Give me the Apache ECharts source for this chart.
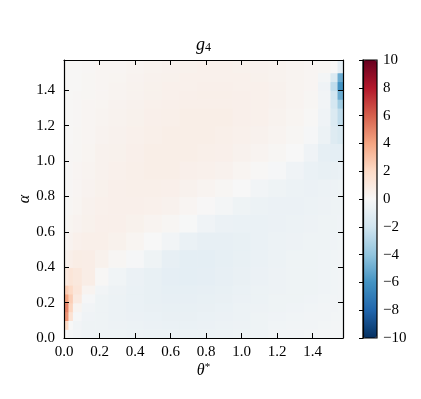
<!DOCTYPE html>
<html><head><meta charset="utf-8">
<script src="https://cdn.jsdelivr.net/npm/echarts@6/dist/echarts.min.js"></script>
<style>html,body{margin:0;padding:0;background:#fff}#c{width:421px;height:399px}</style>
</head><body><div id="c"></div>
<script>
// cell edges (radians) of the sampled field
const thetaEdges = [0, 0.025, 0.05, 0.1, 0.175, 0.25, 0.35, 0.45, 0.55, 0.65, 0.75, 0.85, 0.95, 1.05, 1.15, 1.25, 1.35, 1.43, 1.5, 1.54, 1.5708];
const alphaEdges = [0, 0.05, 0.1, 0.15, 0.2, 0.25, 0.3, 0.4, 0.5, 0.6, 0.7, 0.8, 0.9, 1.0, 1.1, 1.2, 1.3, 1.35, 1.4, 1.45, 1.5, 1.5708];
// g4 values, rows from alpha low to high, columns theta low to high
const g4 = [
 [0.0,-0.2,-0.3,-0.4,-0.45,-0.5,-0.55,-0.6,-0.6,-0.6,-0.6,-0.55,-0.5,-0.4,-0.3,-0.3,-0.25,-0.2,-0.2,-0.2],
 [2.0,0.0,-0.3,-0.45,-0.5,-0.55,-0.6,-0.65,-0.7,-0.7,-0.65,-0.6,-0.55,-0.45,-0.35,-0.3,-0.3,-0.25,-0.2,-0.2],
 [4.5,1.5,-0.1,-0.4,-0.5,-0.6,-0.65,-0.7,-0.75,-0.75,-0.7,-0.65,-0.6,-0.5,-0.4,-0.35,-0.3,-0.3,-0.25,-0.25],
 [5.0,2.2,0.3,-0.3,-0.5,-0.6,-0.7,-0.75,-0.8,-0.8,-0.75,-0.7,-0.6,-0.55,-0.45,-0.4,-0.35,-0.3,-0.3,-0.25],
 [4.0,2.5,0.9,-0.1,-0.45,-0.6,-0.7,-0.8,-0.85,-0.85,-0.8,-0.75,-0.65,-0.6,-0.5,-0.45,-0.4,-0.35,-0.3,-0.3],
 [2.5,2.0,1.2,0.3,-0.3,-0.55,-0.7,-0.8,-0.9,-0.9,-0.85,-0.8,-0.7,-0.6,-0.55,-0.5,-0.45,-0.4,-0.35,-0.3],
 [1.0,1.3,1.1,0.7,0.1,-0.35,-0.65,-0.8,-0.95,-1.0,-0.95,-0.85,-0.75,-0.65,-0.55,-0.5,-0.45,-0.4,-0.35,-0.3],
 [0.4,0.6,0.75,0.7,0.45,0.15,-0.1,-0.5,-0.85,-1.0,-1.0,-0.9,-0.8,-0.7,-0.6,-0.5,-0.45,-0.4,-0.35,-0.3],
 [0.2,0.35,0.5,0.6,0.6,0.45,0.25,0.0,-0.3,-0.7,-0.85,-0.85,-0.8,-0.7,-0.6,-0.55,-0.5,-0.45,-0.4,-0.35],
 [0.12,0.25,0.35,0.45,0.55,0.55,0.45,0.3,0.15,-0.05,-0.4,-0.65,-0.7,-0.7,-0.65,-0.6,-0.55,-0.5,-0.45,-0.4],
 [0.1,0.15,0.25,0.4,0.5,0.55,0.55,0.5,0.4,0.2,0.05,-0.2,-0.45,-0.6,-0.65,-0.65,-0.6,-0.55,-0.5,-0.45],
 [0.1,0.12,0.22,0.35,0.45,0.55,0.6,0.6,0.55,0.4,0.3,0.15,0.0,-0.3,-0.5,-0.6,-0.65,-0.6,-0.55,-0.5],
 [0.1,0.12,0.2,0.3,0.4,0.5,0.6,0.65,0.65,0.55,0.5,0.4,0.25,0.1,-0.1,-0.4,-0.7,-0.8,-0.75,-0.7],
 [0.1,0.12,0.15,0.25,0.4,0.45,0.55,0.65,0.65,0.65,0.6,0.55,0.4,0.3,0.15,0.0,-0.4,-0.9,-1.0,-1.0],
 [0.1,0.1,0.15,0.22,0.35,0.4,0.5,0.6,0.65,0.65,0.65,0.6,0.5,0.4,0.3,0.15,-0.1,-0.6,-1.3,-1.6],
 [0.1,0.1,0.12,0.2,0.3,0.38,0.45,0.55,0.6,0.65,0.65,0.65,0.55,0.5,0.38,0.25,0.08,-0.4,-1.5,-2.5],
 [0.1,0.1,0.12,0.2,0.25,0.35,0.4,0.5,0.55,0.6,0.6,0.6,0.55,0.5,0.4,0.3,0.15,-0.3,-1.8,-3.5],
 [0.1,0.1,0.12,0.15,0.22,0.3,0.38,0.45,0.52,0.55,0.6,0.6,0.55,0.5,0.4,0.3,0.15,-0.3,-2.0,-5.0],
 [0.1,0.1,0.1,0.15,0.22,0.3,0.38,0.45,0.5,0.52,0.55,0.55,0.52,0.5,0.4,0.3,0.2,-0.4,-2.5,-6.0],
 [0.1,0.1,0.1,0.15,0.2,0.25,0.35,0.4,0.45,0.5,0.52,0.52,0.5,0.45,0.38,0.3,0.22,-0.2,-1.5,-5.0],
 [0.1,0.1,0.1,0.12,0.2,0.22,0.3,0.38,0.4,0.45,0.5,0.5,0.45,0.4,0.38,0.3,0.22,0.15,0.0,-1.0]
];
const axisTickLabels = [0.0, 0.2, 0.4, 0.6, 0.8, 1.0, 1.2, 1.4];
const cbarTickLabels = [-10, -8, -6, -4, -2, 0, 2, 4, 6, 8, 10];
const rdbuR = ['#053061','#2166ac','#4393c3','#92c5de','#d1e5f0','#f7f7f7','#fddbc7','#f4a582','#d6604d','#b2182b','#67001f'];

const cells = [];
for (let r = 0; r < g4.length; r++) {
  for (let c = 0; c < g4[r].length; c++) {
    const t0 = thetaEdges[c], t1 = thetaEdges[c + 1];
    const a0 = alphaEdges[r], a1 = alphaEdges[r + 1];
    cells.push([(t0 + t1) / 2, (a0 + a1) / 2, g4[r][c], t0, t1, a0, a1]);
  }
}
const HALF_PI = Math.PI / 2;
const FONT = 'Liberation Serif';
const BLACK = '#000';
function fmtAxis(v) {
  const hit = axisTickLabels.find(t => Math.abs(t - v) < 1e-6);
  return hit === undefined ? '' : hit.toFixed(1);
}
function fmtBar(v) {
  const hit = cbarTickLabels.find(t => Math.abs(t - v) < 1e-6);
  if (hit === undefined) return '';
  return hit < 0 ? '\u2212' + Math.abs(hit) : String(hit);
}
const lbl = {color: BLACK, fontFamily: FONT, fontSize: 15};
function mainAxis(extra) {
  return Object.assign({
    type: 'value', min: 0, max: HALF_PI, interval: 0.2, gridIndex: 0, z: 10,
    splitLine: {show: false}, nameMoveOverlap: false,
    axisLine: {show: true, onZero: false, lineStyle: {color: BLACK, width: 1.2}},
    axisTick: {show: true, inside: true, length: 5, lineStyle: {color: BLACK, width: 1}},
    axisLabel: Object.assign({show: true, formatter: fmtAxis, showMaxLabel: false}, lbl)
  }, extra);
}

const chart = echarts.init(document.getElementById('c'), null, {renderer: 'canvas'});
chart.setOption({
  backgroundColor: '#fff',
  animation: false,
  grid: [
    {left: 64, top: 60, width: 279, height: 278, containLabel: false},
    {left: 363, top: 60, width: 14, height: 278, show: true, z: 10, borderColor: BLACK, borderWidth: 1.2, backgroundColor: 'rgba(0,0,0,0)'}
  ],
  xAxis: [
    mainAxis({position: 'bottom', axisLabel: Object.assign({formatter: fmtAxis, showMaxLabel: false, margin: 7}, lbl),
      name: '{i|θ}{s|*}', nameLocation: 'middle', nameGap: 24,
      nameTextStyle: {rich: {i: {fontFamily: FONT, fontStyle: 'italic', fontSize: 16, color: BLACK}, s: {fontFamily: FONT, fontSize: 11, color: BLACK, verticalAlign: 'top', padding: [0,0,6,0]}}}}),
    mainAxis({position: 'top', axisLabel: {show: false},
      name: '{i|g}{s|4}', nameLocation: 'middle', nameGap: 6,
      nameTextStyle: {rich: {i: {fontFamily: FONT, fontStyle: 'italic', fontSize: 18, color: BLACK}, s: {fontFamily: FONT, fontSize: 12, color: BLACK, verticalAlign: 'bottom', padding: [6,0,0,0]}}}}),
    {type: 'value', gridIndex: 1, show: false, min: 0, max: 1}
  ],
  yAxis: [
    mainAxis({position: 'left', axisLabel: Object.assign({formatter: fmtAxis, showMaxLabel: false, margin: 9}, lbl),
      name: 'α', nameLocation: 'middle', nameGap: 31, nameRotate: 90,
      nameTextStyle: {fontFamily: FONT, fontStyle: 'italic', fontSize: 16, color: BLACK}}),
    mainAxis({position: 'right', axisLabel: {show: false}}),
    {type: 'value', gridIndex: 1, position: 'right', min: -10, max: 10, interval: 2, z: 10,
      splitLine: {show: false},
      axisLine: {show: true, lineStyle: {color: BLACK, width: 1.2}},
      axisTick: {show: true, inside: true, length: 4, lineStyle: {color: BLACK, width: 1}},
      axisLabel: Object.assign({formatter: fmtBar, margin: 6}, lbl)}
  ],
  visualMap: {
    type: 'continuous', min: -10, max: 10, dimension: 2, seriesIndex: 0,
    orient: 'vertical', left: 363, top: 60, padding: 0,
    itemWidth: 14, itemHeight: 278, calculable: false, realtime: false,
    inRange: {color: rdbuR}, textStyle: {color: 'transparent'}, text: null
  },
  series: [{
    type: 'custom', xAxisIndex: 0, yAxisIndex: 0, clip: true,
    encode: {x: 0, y: 1},
    data: cells,
    renderItem: function (params, api) {
      const p0 = api.coord([api.value(3), api.value(6)]);
      const p1 = api.coord([api.value(4), api.value(5)]);
      return {type: 'rect', shape: {x: p0[0], y: p0[1], width: p1[0] - p0[0] + 0.7, height: p1[1] - p0[1] + 0.7},
        style: {fill: api.visual('color'), stroke: null}};
    }
  }]
});
</script></body></html>
